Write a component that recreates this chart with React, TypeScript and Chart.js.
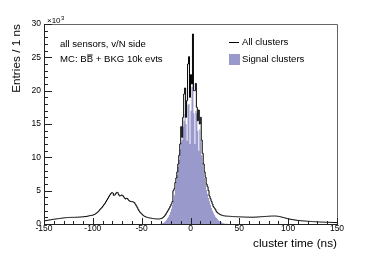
import React, { useEffect, useRef } from 'react';
import { Chart, registerables } from 'chart.js';

Chart.register(...registerables);

const FONT = "'Liberation Sans', Arial, Helvetica, sans-serif";

// x axis: cluster time (ns), 1 ns bins
const X_MIN = -150;
const X_MAX = 150;
const X_MAJOR = 50;
const X_MINOR = 10;
// y axis: entries, in units of 10^3
const Y_MIN = 0;
const Y_MAX = 30;
const Y_MAJOR = 5;
const Y_MINOR = 1;

const X_TITLE = 'cluster time (ns)';
const Y_TITLE = 'Entries / 1 ns';
const Y_EXPONENT = '3';
const legendLabels = ['All clusters', 'Signal clusters'];
const infoLine1 = 'all sensors, v/N side';
const infoLine2Parts = ['MC: B', 'B', ' + BKG 10k evts']; // second B is overlined (B-bar)

// All clusters, entries per 1 ns bin (x10^3), first bin starts at -150 ns
const ALL_FIRST_BIN = -150;
const allClusters = [
  0.45, 0.5, 0.52, 0.55, 0.58, 0.6, 0.62, 0.65, 0.68, 0.7,
  0.72, 0.74, 0.76, 0.78, 0.8, 0.82, 0.84, 0.86, 0.88, 0.9,
  0.92, 0.93, 0.95, 0.96, 0.97, 0.98, 0.98, 0.99, 1.0, 1.0,
  1.0, 1.0, 1.01, 1.02, 1.02, 1.03, 1.04, 1.05, 1.06, 1.07,
  1.08, 1.1, 1.12, 1.14, 1.17, 1.2, 1.23, 1.26, 1.29, 1.32,
  1.35, 1.42, 1.5, 1.6, 1.72, 1.85, 2.0, 2.2, 2.35, 2.5,
  2.7, 2.9, 3.1, 3.35, 3.6, 3.85, 4.1, 4.35, 4.55, 4.7,
  4.65, 4.3, 4.35, 4.55, 4.75, 4.7, 4.4, 4.2, 4.25, 4.35,
  4.3, 4.1, 3.9, 3.75, 3.85, 3.8, 3.6, 3.45, 3.4, 3.35,
  3.35, 3.3, 3.2, 3.0, 2.75, 2.5, 2.2, 1.95, 1.75, 1.6,
  1.45, 1.3, 1.2, 1.12, 1.05, 1.0, 0.96, 0.92, 0.9, 0.88,
  0.85, 0.82, 0.8, 0.78, 0.77, 0.76, 0.75, 0.75, 0.76, 0.8,
  0.85, 0.92, 1.05, 1.2, 1.4, 1.65, 1.9, 2.15, 2.4, 2.7,
  3.0, 3.35, 5.0, 5.3, 6.2, 6.9, 7.8, 9.0, 10.3, 12.0,
  14.6, 13.0, 16.0, 19.5, 20.4, 16.0, 18.5, 24.0, 25.1, 19.0,
  22.4, 21.0, 28.5, 20.0, 20.0, 21.1, 17.5, 15.5, 17.1, 15.0,
  16.0, 12.6, 10.6, 9.0, 7.8, 7.0, 6.0, 5.6, 5.0, 4.2,
  3.8, 3.4, 3.0, 2.6, 2.4, 2.2, 1.9, 1.7, 1.6, 1.5,
  1.4, 1.35, 1.3, 1.25, 1.22, 1.2, 1.19, 1.18, 1.17, 1.16,
  1.15, 1.14, 1.13, 1.12, 1.11, 1.1, 1.1, 1.09, 1.08, 1.08,
  1.07, 1.06, 1.06, 1.05, 1.05, 1.04, 1.04, 1.03, 1.03, 1.03,
  1.02, 1.02, 1.02, 1.02, 1.02, 1.03, 1.03, 1.04, 1.05, 1.06,
  1.07, 1.08, 1.09, 1.1, 1.11, 1.12, 1.13, 1.14, 1.15, 1.16,
  1.17, 1.18, 1.19, 1.19, 1.2, 1.2, 1.2, 1.19, 1.18, 1.16,
  1.13, 1.1, 1.07, 1.03, 1.0, 0.96, 0.92, 0.88, 0.84, 0.8,
  0.77, 0.74, 0.71, 0.68, 0.65, 0.63, 0.61, 0.59, 0.57, 0.55,
  0.53, 0.51, 0.5, 0.48, 0.47, 0.46, 0.45, 0.44, 0.43, 0.42,
  0.41, 0.4, 0.39, 0.38, 0.37, 0.36, 0.35, 0.34, 0.33, 0.32,
  0.31, 0.3, 0.3, 0.29, 0.29, 0.28, 0.28, 0.27, 0.27, 0.26,
  0.26, 0.25, 0.25, 0.24, 0.24, 0.23, 0.23, 0.22, 0.22, 0.21,
];

// Signal clusters, entries per 1 ns bin (x10^3), first bin starts at -32 ns (zero elsewhere)
const SIGNAL_FIRST_BIN = -32;
const signalClusters = [
  0, 0.03, 0.06, 0.1, 0.18, 0.3, 0.45, 0.62, 0.85, 1.1,
  1.4, 1.8, 2.3, 2.9, 3.5, 4.3, 5.3, 6.3, 7.4, 8.6,
  9.6, 11.2, 12.2, 12.6, 14.6, 15.5, 16.5, 15.0, 12.5, 17.9,
  18.0, 12.0, 17.0, 20.6, 22.5, 16.6, 12.0, 17.0, 16.6, 14.0,
  11.0, 14.2, 12.6, 10.3, 9.1, 7.8, 6.9, 6.0, 5.1, 4.5,
  3.9, 3.4, 2.9, 2.4, 2.0, 1.7, 1.35, 1.1, 0.9, 0.75,
  0.55, 0.45, 0.35, 0.25, 0.18, 0.12, 0.08, 0.05, 0.03, 0.02,
  0.01, 0,
];

const SIGNAL_COLOR = 'rgb(153, 153, 204)';
const LINE_COLOR = '#000000';

function histPoints(first: number, values: number[]) {
  const pts = values.map((v, i) => ({ x: first + i, y: v }));
  pts.push({ x: first + values.length, y: values[values.length - 1] });
  return pts;
}

const decorPlugin = {
  id: 'rootDecor',
  afterDraw(chart: any) {
    const { ctx, chartArea: a } = chart;
    const xs = chart.scales.x;
    const ys = chart.scales.y;
    const L = Math.round(a.left);
    const R = Math.round(a.right);
    const T = Math.round(a.top);
    const B = Math.round(a.bottom);
    ctx.save();
    ctx.lineWidth = 1;

    // frame (top / right lighter)
    ctx.strokeStyle = '#666';
    ctx.beginPath();
    ctx.moveTo(L, T + 0.5);
    ctx.lineTo(R + 0.5, T + 0.5);
    ctx.lineTo(R + 0.5, B);
    ctx.stroke();

    // axes
    ctx.strokeStyle = '#222';
    ctx.beginPath();
    ctx.moveTo(L + 0.5, T);
    ctx.lineTo(L + 0.5, B + 0.5);
    ctx.lineTo(R + 1, B + 0.5);
    ctx.stroke();

    // inward ticks
    ctx.beginPath();
    for (let v = Y_MIN; v <= Y_MAX; v += Y_MINOR) {
      const py = Math.round(ys.getPixelForValue(v)) + 0.5;
      const len = v % Y_MAJOR === 0 ? 8 : 4;
      ctx.moveTo(L, py);
      ctx.lineTo(L + len, py);
    }
    for (let v = X_MIN; v <= X_MAX; v += X_MINOR) {
      const px = Math.round(xs.getPixelForValue(v)) + 0.5;
      const len = v % X_MAJOR === 0 ? 6 : 3;
      ctx.moveTo(px, B);
      ctx.lineTo(px, B - len);
    }
    ctx.stroke();

    // x10^3 exponent
    ctx.fillStyle = '#000';
    ctx.textBaseline = 'middle';
    ctx.textAlign = 'left';
    ctx.font = `8px ${FONT}`;
    const base = '\u00d710';
    ctx.fillText(base, L + 3, T - 3);
    const bw = ctx.measureText(base).width;
    ctx.font = `6px ${FONT}`;
    ctx.fillText(Y_EXPONENT, L + 3 + bw + 0.5, T - 6);

    // info text
    ctx.font = `9.6px ${FONT}`;
    const tx = L + 16;
    ctx.fillText(infoLine1, tx, T + 20);
    let cx = tx;
    const ty = T + 35.5;
    infoLine2Parts.forEach((p, i) => {
      ctx.fillText(p, cx, ty);
      const w = ctx.measureText(p).width;
      if (i === 1) {
        ctx.beginPath();
        ctx.strokeStyle = '#000';
        ctx.moveTo(cx + 0.5, ty - 4.5);
        ctx.lineTo(cx + w - 0.5, ty - 4.5);
        ctx.stroke();
      }
      cx += w;
    });

    // legend
    const lx = L + 185;
    ctx.strokeStyle = LINE_COLOR;
    ctx.beginPath();
    ctx.moveTo(lx, T + 18.5);
    ctx.lineTo(lx + 10, T + 18.5);
    ctx.stroke();
    ctx.fillStyle = '#000';
    ctx.fillText(legendLabels[0], lx + 13, T + 18.5);
    ctx.fillStyle = SIGNAL_COLOR;
    ctx.fillRect(lx, T + 30, 11, 11);
    ctx.fillStyle = '#000';
    ctx.fillText(legendLabels[1], lx + 13, T + 35.5);

    ctx.restore();
  },
};

export default function App() {
  const ref = useRef<HTMLCanvasElement | null>(null);

  useEffect(() => {
    if (!ref.current) return;
    const chart = new Chart(ref.current, {
      type: 'line',
      data: {
        datasets: [
          {
            label: legendLabels[0],
            data: histPoints(ALL_FIRST_BIN, allClusters),
            stepped: 'before',
            borderColor: LINE_COLOR,
            borderWidth: 1,
            pointRadius: 0,
            fill: false,
          },
          {
            label: legendLabels[1],
            data: histPoints(SIGNAL_FIRST_BIN, signalClusters),
            stepped: 'before',
            borderColor: 'rgba(0,0,0,0)',
            borderWidth: 0,
            backgroundColor: SIGNAL_COLOR,
            pointRadius: 0,
            fill: 'origin',
          },
        ],
      },
      options: {
        animation: false,
        responsive: false,
        devicePixelRatio: 1,
        events: [],
        parsing: false,
        layout: { padding: { left: 0, top: 24, right: 37, bottom: 0 } },
        plugins: {
          legend: { display: false },
          tooltip: { enabled: false },
        },
        scales: {
          x: {
            type: 'linear',
            min: X_MIN,
            max: X_MAX,
            grid: { display: false, drawTicks: false },
            border: { display: false },
            ticks: {
              stepSize: X_MAJOR,
              autoSkip: false,
              maxRotation: 0,
              padding: 0,
              color: '#000',
              font: { family: FONT, size: 8.5 },
            },
            title: {
              display: true,
              text: X_TITLE,
              align: 'end',
              color: '#000',
              font: { family: FONT, size: 11.8 },
              padding: { top: 0, bottom: 4 },
            },
            afterFit(scale: any) {
              scale.height = 31;
            },
          },
          y: {
            type: 'linear',
            min: Y_MIN,
            max: Y_MAX,
            grid: { display: false, drawTicks: false },
            border: { display: false },
            ticks: {
              stepSize: Y_MAJOR,
              autoSkip: false,
              padding: 3,
              color: '#000',
              font: { family: FONT, size: 8.5 },
            },
            title: {
              display: true,
              text: Y_TITLE,
              align: 'end',
              color: '#000',
              font: { family: FONT, size: 11.8 },
              padding: { top: 10, bottom: 0 },
            },
            afterFit(scale: any) {
              scale.width = 44;
            },
          },
        },
      },
      plugins: [decorPlugin],
    });
    return () => chart.destroy();
  }, []);

  return (
    <div style={{ position: 'fixed', left: 0, top: 0, width: 374, height: 255, background: '#fff' }}>
      <canvas ref={ref} width={374} height={255} style={{ display: 'block', width: 374, height: 255 }} />
    </div>
  );
}
